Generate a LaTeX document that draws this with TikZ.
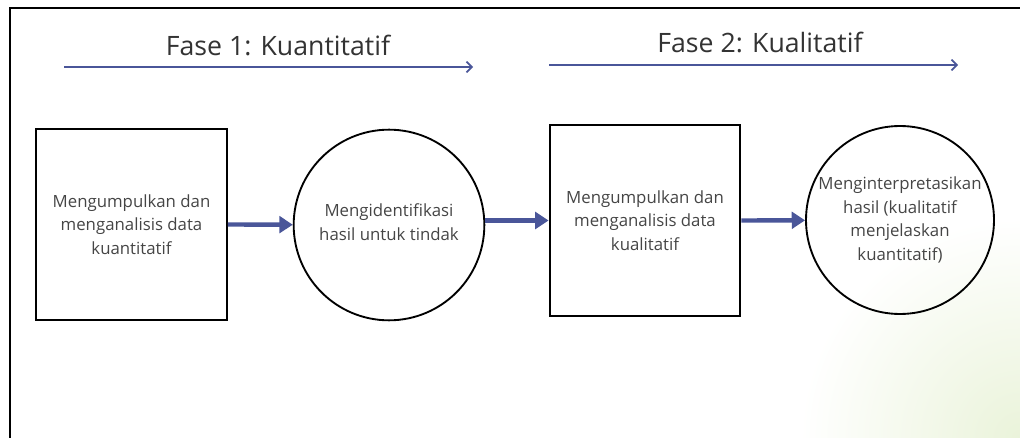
\documentclass[tikz,border=0pt]{standalone}
\usepackage{fontspec}
\setmainfont{Open Sans}
\usepackage{xcolor}
\usetikzlibrary{positioning,arrows.meta}
\definecolor{flowblue}{HTML}{4A5699}
\definecolor{txtgray}{HTML}{454545}
\definecolor{paleleaf}{HTML}{EAF3DA}

\begin{document}
\begin{tikzpicture}[x=0.75pt, y=-0.75pt,
  every node/.style={font=\fontsize{12.6}{17.6}\selectfont, text=txtgray, align=center},
  stage/.style={draw, line width=1.7pt, minimum size=143pt, inner sep=2pt},
  result/.style={draw, circle, line width=1.4pt, inner sep=0pt},
  phase/.style={font=\fontsize{20}{24}\selectfont, text=black!80},
  span/.style={draw=flowblue, line width=1.3pt, -{Straight Barb[length=4pt,width=8pt]}},
  flow/.style={draw=flowblue, line width=3.3pt, -{Triangle[length=10pt,width=12.5pt]}}]

  \useasboundingbox (0,0) rectangle (1020,438);
  \shade[inner color=paleleaf, outer color=white] (1020,438) circle (220);
  \draw[line width=1.8pt] (1020,8) -- (10,8) -- (10,438);

  %% ─── Phase headers ─────────────────────────────────────────────────────
  \node[phase] (f1_title) at (278,45) {Fase 1: Kuantitatif};
  \coordinate (f1_a) at (64,67);
  \coordinate (f1_b) at (473,67);
  \draw[span] (f1_a) -- (f1_b);

  \node[phase] (f2_title) at (760,42) {Fase 2: Kualitatif};
  \coordinate (f2_a) at (549,65);
  \coordinate (f2_b) at (958,65);
  \draw[span] (f2_a) -- (f2_b);

  %% ─── Steps ─────────────────────────────────────────────────────────────
  \node[stage] (q_collect) at (131.5,224.5)
    {Mengumpulkan dan\\menganalisis data\\kuantitatif};
  \node[result, minimum size=143pt] (q_ident) at (389,225) {};
  \node (q_ident_txt) at (389,222) {Mengidentifikasi\\hasil untuk tindak};

  \node[stage] (k_collect) at (645,220.5)
    {Mengumpulkan dan\\menganalisis data\\kualitatif};
  \node[result, minimum size=141pt] (k_interp) at (900,220) {};
  \node (k_interp_txt) at (900,220)
    {Menginterpretasikan\\hasil (kualitatif\\menjelaskan\\kuantitatif)};

  \draw[flow] (q_collect.east) -- (q_ident);
  \draw[flow] (k_collect.west -| q_ident.east) -- (k_collect.west);
  \draw[flow] (k_collect.east) -- (k_interp);
\end{tikzpicture}
\end{document}
